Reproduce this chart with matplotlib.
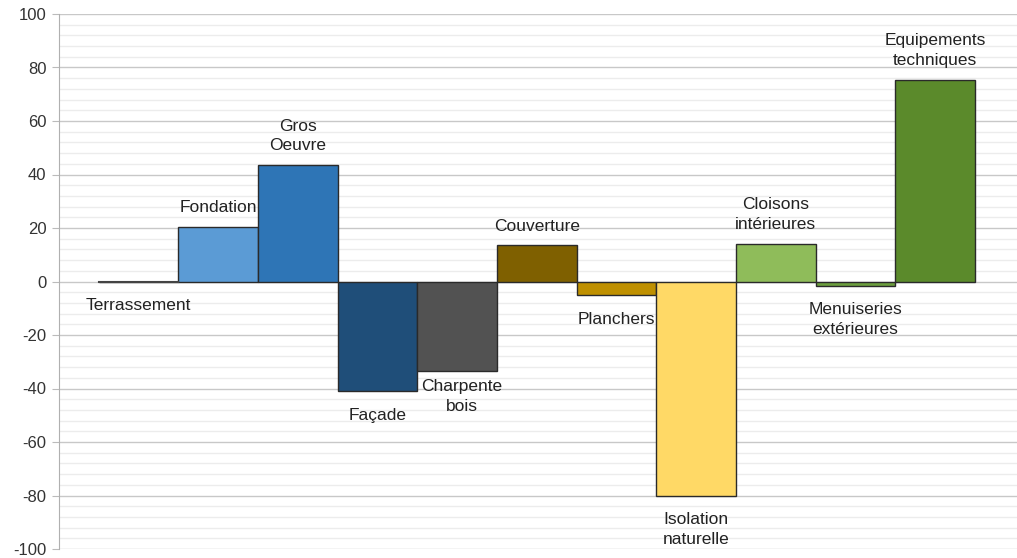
import matplotlib.pyplot as plt
from matplotlib.ticker import MultipleLocator

plt.rcParams['font.family'] = ['Liberation Sans', 'DejaVu Sans']
plt.rcParams['axes.unicode_minus'] = False

# Lots du chantier et écart (%)
lots = ['Terrassement', 'Fondation', 'Gros\nOeuvre', 'Façade', 'Charpente\nbois',
        'Couverture', 'Planchers', 'Isolation\nnaturelle', 'Cloisons\nintérieures',
        'Menuiseries\nextérieures', 'Equipements\ntechniques']
ecarts = [0, 20.5, 43.5, -41, -33.5, 13.5, -5, -80, 14, -1.5, 75.5]
couleurs = ['#595959', '#5b9bd5', '#2e75b6', '#1f4e79', '#525252', '#7f6000',
            '#bf9000', '#ffd966', '#8fbc5a', '#6c9f3e', '#5b8a2b']

fig = plt.figure(figsize=(10.17, 5.58), dpi=100)
ax = fig.add_axes([59 / 1017, 9 / 558, 958 / 1017, 535 / 558])

x = list(range(len(lots)))
ax.bar(x, ecarts, width=1.0, color=couleurs, edgecolor='#2a2a2a', linewidth=1.0, zorder=3)
# terrassement = 0 : juste un trait
ax.plot([-0.5, 0.5], [0, 0], color='#444444', lw=1.5, zorder=4)

for xi, v, lab in zip(x, ecarts, lots):
    if v > 0:
        ax.annotate(lab, (xi, v), xytext=(0, 8.5), textcoords='offset points',
                    ha='center', va='bottom', fontsize=12.5, color='#222222',
                    linespacing=1.4, zorder=5)
    else:
        dy = -6 if lab.startswith('Charpente') else -12
        ax.annotate(lab, (xi + (0.06 if dy == -6 else 0), v), xytext=(0, dy),
                    textcoords='offset points',
                    ha='center', va='top', fontsize=12.5, color='#222222',
                    linespacing=1.4, zorder=5)

ax.set_xlim(-1, 11.03)
ax.set_ylim(-100, 100)
ax.yaxis.set_major_locator(MultipleLocator(20))
ax.yaxis.set_minor_locator(MultipleLocator(4))
ax.grid(which='major', axis='y', color='#c8c8c8', lw=1.0, zorder=0)
ax.grid(which='minor', axis='y', color='#ececec', lw=1.0, zorder=0)
ax.set_xticks([])
ax.tick_params(axis='y', which='major', length=5, color='#bbbbbb', labelsize=12,
               labelcolor='#333333', pad=4)
ax.tick_params(axis='y', which='minor', length=0)
for s in ['top', 'right', 'bottom']:
    ax.spines[s].set_visible(False)
ax.spines['left'].set_color('#b0b0b0')

plt.savefig('out.png', dpi=100)
